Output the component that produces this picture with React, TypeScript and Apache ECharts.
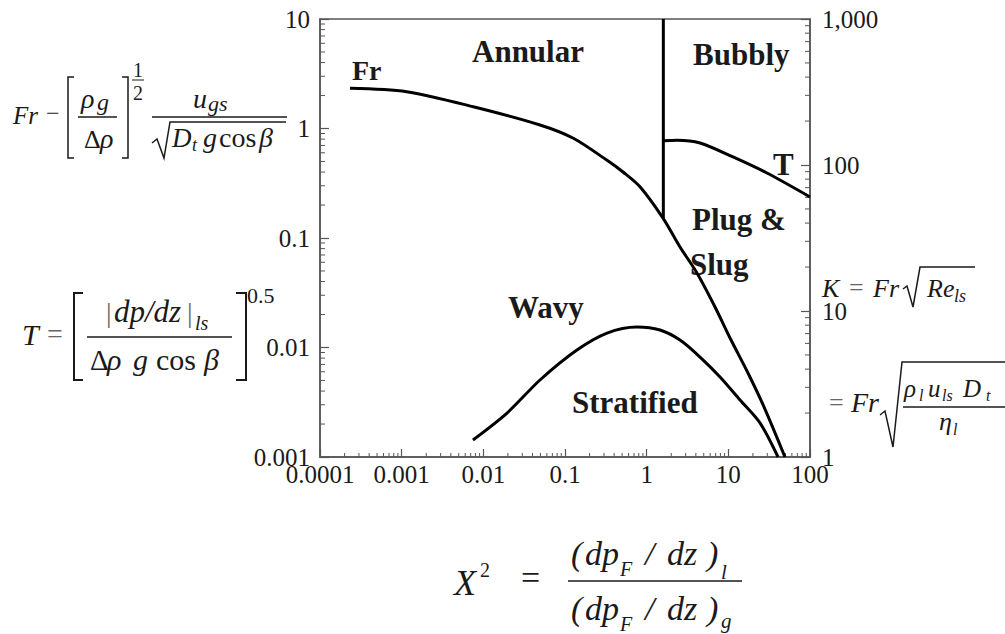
import React, { useEffect, useRef } from "react";
import * as echarts from "echarts";

// ---- data ----
const xTickLabels = ["0.0001", "0.001", "0.01", "0.1", "1", "10", "100"];
const yLeftTickLabels = ["0.001", "0.01", "0.1", "1", "10"];
const yRightTickLabels = ["1", "10", "100", "1,000"];

// Fr boundary (annular / wavy -> plug & slug)
const frX = [0.000233, 0.00115, 0.00753, 0.0494, 0.1265, 0.324, 0.513, 0.828, 1.585, 2.56, 4.13, 6.87, 10.8, 17.4, 27.4, 49.4];
const frY = [2.33, 2.17, 1.58, 1.077, 0.815, 0.515, 0.401, 0.294, 0.152, 0.0828, 0.0479, 0.02344, 0.0117, 0.00585, 0.00286, 0.001];

// K boundary (wavy / stratified)
const wvX = [0.00746, 0.0195, 0.0494, 0.14, 0.327, 0.762, 1.456, 2.56, 4.5, 7.91, 13.9, 24.4, 40.6];
const wvY = [0.00143, 0.00252, 0.00505, 0.00948, 0.01355, 0.01538, 0.01445, 0.0117, 0.00818, 0.00538, 0.00332, 0.00205, 0.001];

// vertical boundary (annular / bubbly)
const vX = [1.6, 1.6];
const vY = [10, 0.152];

// T boundary (bubbly / plug & slug), right axis
const tX = [1.6, 2.35, 4.5, 11.4, 29.7, 100];
const tY = [146.6, 148, 141.6, 113.5, 88.1, 60.4];

const SERIF = "'Liberation Serif', 'Times New Roman', serif";
const AXIS_COLOR = "#555";
const TEXT_COLOR = "#1a1a1a";

function minorValues(fromExp: number, toExp: number): number[] {
  const out: number[] = [];
  for (let e = fromExp; e < toExp; e++) {
    for (let k = 2; k <= 9; k++) out.push(k * Math.pow(10, e));
  }
  return out;
}

function idx(v: number, minExp: number) {
  return Math.round(Math.log10(v)) - minExp;
}

// text helper: x = left, b = baseline
function tx(x: number, b: number, text: string, size: number, opts: any = {}) {
  const y = b - 0.34 * size;
  return {
    type: "text",
    silent: true,
    style: {
      text,
      x,
      y,
      fontFamily: SERIF,
      fontSize: size,
      fontStyle: opts.italic ? "italic" : "normal",
      fontWeight: opts.bold ? "bold" : "normal",
      fill: opts.color || TEXT_COLOR,
      align: opts.align || "left",
      textAlign: opts.align || "left",
      verticalAlign: "middle",
      textVerticalAlign: "middle",
    },
  };
}

function ln(x1: number, y1: number, x2: number, y2: number, w = 1.5) {
  return {
    type: "line",
    silent: true,
    shape: { x1, y1, x2, y2 },
    style: { stroke: TEXT_COLOR, lineWidth: w },
  };
}

function pl(points: number[][], w = 1.5) {
  return {
    type: "polyline",
    silent: true,
    shape: { points },
    style: { stroke: TEXT_COLOR, fill: null, lineWidth: w },
  };
}

function buildGraphics() {
  const g: any[] = [];
  // region labels
  g.push(tx(472, 62, "Annular", 31, { bold: true }));
  g.push(tx(352, 80, "Fr", 28, { bold: true }));
  g.push(tx(693, 65, "Bubbly", 31, { bold: true }));
  g.push(tx(773, 175, "T", 31, { bold: true }));
  g.push(tx(692, 230, "Plug &", 31, { bold: true }));
  g.push(tx(690, 275, "Slug", 31, { bold: true }));
  g.push(tx(508, 318, "Wavy", 31, { bold: true }));
  g.push(tx(572, 413, "Stratified", 31, { bold: true }));

  // Formula 1: Fr − [ρg/Δρ]^(1/2) ugs / √(Dt g cos β)
  g.push(tx(13, 124, "Fr", 25, { italic: true }));
  g.push(tx(46, 121, "−", 24));
  g.push(pl([[74, 77], [68, 77], [68, 158], [74, 158]]));
  g.push(pl([[122, 77], [128, 77], [128, 158], [122, 158]]));
  g.push(tx(81, 108, "ρ", 28, { italic: true }));
  g.push(tx(97, 110, "g", 24, { italic: true }));
  g.push(ln(78, 117, 117, 117));
  g.push(tx(84, 148, "Δ", 26));
  g.push(tx(100, 148, "ρ", 28, { italic: true }));
  g.push(tx(138, 77, "1", 20, { align: "center" }));
  g.push(ln(132, 80, 144, 80, 1));
  g.push(tx(138, 100, "2", 20, { align: "center" }));
  g.push(tx(193, 108, "u", 28, { italic: true }));
  g.push(tx(208, 111, "gs", 22, { italic: true }));
  g.push(ln(152, 117, 287, 117));
  g.push(pl([[152, 143], [157, 139], [164, 158], [170, 122], [286, 122]]));
  g.push(tx(172, 147, "D", 27, { italic: true }));
  g.push(tx(192, 151, "t", 18, { italic: true }));
  g.push(tx(203, 147, "g", 28, { italic: true }));
  g.push(tx(219, 147, "cos", 28));
  g.push(tx(259, 147, "β", 28, { italic: true }));

  // Formula 2: T = [ |dp/dz|ls / (Δρ g cos β) ]^0.5
  g.push(tx(22, 345, "T", 30, { italic: true }));
  g.push(tx(47, 343, "=", 28, { color: "#666" }));
  g.push(pl([[83, 293], [74, 293], [74, 380], [83, 380]], 2));
  g.push(pl([[236, 293], [246, 293], [246, 380], [236, 380]], 2));
  g.push(tx(106, 322, "|", 28, { color: "#666" }));
  g.push(tx(114, 322, "dp/dz", 31, { italic: true }));
  g.push(tx(187, 322, "|", 28, { color: "#666" }));
  g.push(tx(195, 330, "ls", 20, { italic: true }));
  g.push(ln(87, 337, 232, 337));
  g.push(tx(90, 370, "Δ", 29));
  g.push(tx(107, 370, "ρ", 30, { italic: true }));
  g.push(tx(133, 370, "g", 30, { italic: true }));
  g.push(tx(156, 370, "cos", 30));
  g.push(tx(204, 370, "β", 30, { italic: true }));
  g.push(tx(247, 303, "0.5", 22));

  // Formula 3: K = Fr √(Re_ls)
  g.push(tx(822, 297, "K", 26, { italic: true }));
  g.push(tx(849, 296, "=", 26, { color: "#666" }));
  g.push(tx(873, 297, "Fr", 26, { italic: true }));
  g.push(pl([[903, 289], [907, 286], [913, 307], [920, 267], [975, 267]]));
  g.push(tx(927, 297, "Re", 26, { italic: true }));
  g.push(tx(954, 302, "ls", 18, { italic: true }));

  // Formula 4: = Fr √(ρl uls Dt / ηl)
  g.push(tx(829, 411, "=", 26, { color: "#666" }));
  g.push(tx(851, 412, "Fr", 28, { italic: true }));
  g.push(pl([[880, 415], [885, 411], [893, 447], [902, 362], [1005, 362]]));
  g.push(tx(904, 397, "ρ", 25, { italic: true }));
  g.push(tx(919, 401, "l", 16, { italic: true }));
  g.push(tx(928, 397, "u", 25, { italic: true }));
  g.push(tx(942, 401, "ls", 16, { italic: true }));
  g.push(tx(963, 397, "D", 25, { italic: true }));
  g.push(tx(986, 401, "t", 16, { italic: true }));
  g.push(ln(903, 407, 1005, 407));
  g.push(tx(939, 430, "η", 26, { italic: true }));
  g.push(tx(953, 435, "l", 16, { italic: true }));

  // Formula 5: X² = (dpF/dz)l / (dpF/dz)g
  g.push(tx(454, 595, "X", 36, { italic: true }));
  g.push(tx(480, 577, "2", 20));
  g.push(tx(521, 589, "=", 34));
  const num = 565;
  const den = 620;
  [num, den].forEach((b, i) => {
    g.push(tx(571, b, "(", 34, { italic: true }));
    g.push(tx(585, b, "dp", 34, { italic: true }));
    g.push(tx(620, b + 11, "F", 20, { italic: true }));
    g.push(tx(645, b, "/", 34, { italic: true }));
    g.push(tx(667, b, "dz", 34, { italic: true }));
    g.push(tx(707, b, ")", 34, { italic: true }));
    g.push(tx(721, b + (i === 0 ? 14 : 8), i === 0 ? "l" : "g", 21, { italic: true }));
  });
  g.push(ln(568, 581, 742, 581));
  return g;
}

function tickSeries(kind: "x" | "yl" | "yr", values: number[]) {
  const data = values.map((v) =>
    kind === "x" ? [v, 0.001] : kind === "yl" ? [0.0001, v] : [100, v]
  );
  return {
    type: "custom",
    xAxisIndex: 0,
    yAxisIndex: kind === "yr" ? 1 : 0,
    silent: true,
    clip: false,
    z: 3,
    encode: { x: 0, y: 1 },
    data,
    renderItem: (_params: any, api: any) => {
      const p = api.coord([api.value(0), api.value(1)]);
      let shape;
      if (kind === "x") shape = { x1: p[0], y1: p[1], x2: p[0], y2: p[1] - 4 };
      else if (kind === "yl") shape = { x1: p[0], y1: p[1], x2: p[0] + 5, y2: p[1] };
      else shape = { x1: p[0], y1: p[1], x2: p[0] - 5, y2: p[1] };
      return { type: "line", shape, style: { stroke: AXIS_COLOR, lineWidth: 1 } };
    },
  };
}

const curveStyle = { color: "#000", width: 3 };

export default function App() {
  const ref = useRef<HTMLDivElement>(null);
  useEffect(() => {
    document.body.style.margin = "0";
    const chart = echarts.init(ref.current!, null, { renderer: "svg" });
    const axisLabelBase = {
      fontFamily: SERIF,
      fontSize: 25,
      color: TEXT_COLOR,
    };
    const option: any = {
      animation: false,
      backgroundColor: "#fff",
      grid: {
        left: 320,
        right: 195,
        top: 19,
        bottom: 177,
        show: true,
        borderColor: AXIS_COLOR,
        borderWidth: 1.5,
        backgroundColor: "transparent",
      },
      xAxis: [
        {
          type: "log",
          logBase: 10,
          min: 0.0001,
          max: 100,
          splitLine: { show: false },
          axisLine: { show: true, lineStyle: { color: AXIS_COLOR, width: 1.5 } },
          axisTick: { show: true, inside: true, length: 8, lineStyle: { color: AXIS_COLOR, width: 1.2 } },
          axisLabel: {
            ...axisLabelBase,
            margin: 5,
            showMinLabel: true,
            showMaxLabel: true,
            formatter: (v: number) => xTickLabels[idx(v, -4)] ?? "",
          },
        },
      ],
      yAxis: [
        {
          type: "log",
          logBase: 10,
          min: 0.001,
          max: 10,
          position: "left",
          splitLine: { show: false },
          axisLine: { show: true, lineStyle: { color: AXIS_COLOR, width: 1.5 } },
          axisTick: { show: true, inside: true, length: 9, lineStyle: { color: AXIS_COLOR, width: 1.2 } },
          axisLabel: {
            ...axisLabelBase,
            margin: 10,
            showMinLabel: true,
            showMaxLabel: true,
            formatter: (v: number) => yLeftTickLabels[idx(v, -3)] ?? "",
          },
        },
        {
          type: "log",
          logBase: 10,
          min: 1,
          max: 1000,
          position: "right",
          splitLine: { show: false },
          axisLine: { show: true, lineStyle: { color: AXIS_COLOR, width: 1.5 } },
          axisTick: { show: true, inside: true, length: 9, lineStyle: { color: AXIS_COLOR, width: 1.2 } },
          axisLabel: {
            ...axisLabelBase,
            margin: 12,
            showMinLabel: true,
            showMaxLabel: true,
            formatter: (v: number) => yRightTickLabels[idx(v, 0)] ?? "",
          },
        },
      ],
      series: [
        {
          type: "line",
          name: "Fr",
          data: frX.map((x, i) => [x, frY[i]]),
          smooth: 0.3,
          showSymbol: false,
          symbol: "none",
          lineStyle: curveStyle,
          z: 5,
        },
        {
          type: "line",
          name: "K",
          data: wvX.map((x, i) => [x, wvY[i]]),
          smooth: 0.3,
          showSymbol: false,
          symbol: "none",
          lineStyle: curveStyle,
          z: 5,
        },
        {
          type: "line",
          name: "vertical",
          data: vX.map((x, i) => [x, vY[i]]),
          showSymbol: false,
          symbol: "none",
          lineStyle: curveStyle,
          z: 5,
        },
        {
          type: "line",
          name: "T",
          yAxisIndex: 1,
          data: tX.map((x, i) => [x, tY[i]]),
          smooth: 0.3,
          showSymbol: false,
          symbol: "none",
          lineStyle: curveStyle,
          z: 5,
        },
        tickSeries("x", minorValues(-4, 2)),
        tickSeries("yl", minorValues(-3, 1)),
        tickSeries("yr", minorValues(0, 3)),
      ],
      graphic: buildGraphics(),
    };
    chart.setOption(option);
    return () => chart.dispose();
  }, []);
  return <div ref={ref} style={{ width: 1005, height: 634 }} />;
}
